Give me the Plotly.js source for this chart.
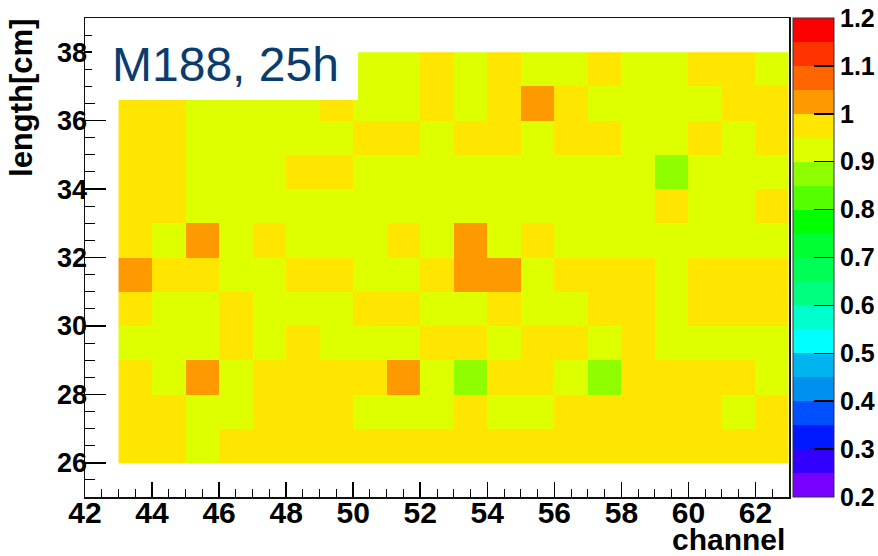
<!DOCTYPE html>
<html>
<head>
<meta charset="utf-8">
<script src="https://cdn.plot.ly/plotly-3.0.1.min.js"></script>
<style>
  html, body { margin: 0; padding: 0; background: #fff; }
  #chart { width: 878px; height: 556px; }
</style>
</head>
<body>
<div id="chart"></div>
<script>
// Bin centres of the 2D histogram
const channels = [43.5, 44.5, 45.5, 46.5, 47.5, 48.5, 49.5, 50.5, 51.5, 52.5,
                  53.5, 54.5, 55.5, 56.5, 57.5, 58.5, 59.5, 60.5, 61.5, 62.5];
const lengths = [26.5, 27.5, 28.5, 29.5, 30.5, 31.5, 32.5, 33.5, 34.5, 35.5, 36.5, 37.5];

// Relative response per channel, one array per length bin (26 cm .. 37 cm)
const len26 = [0.97, 0.98, 0.93, 0.97, 0.98, 0.97, 0.98, 0.97, 0.97, 0.98, 0.97, 0.98, 0.97, 0.97, 0.98, 0.97, 0.98, 0.97, 0.97, 0.98];
const len27 = [0.97, 0.96, 0.93, 0.92, 0.97, 0.98, 0.97, 0.93, 0.94, 0.93, 0.97, 0.93, 0.94, 0.97, 0.98, 0.97, 0.97, 0.98, 0.93, 0.97];
const len28 = [0.97, 0.93, 1.02, 0.93, 0.98, 0.97, 0.97, 0.98, 1.03, 0.93, 0.88, 0.97, 0.96, 0.93, 0.88, 0.97, 0.98, 0.97, 0.97, 0.93];
const len29 = [0.93, 0.94, 0.93, 0.97, 0.93, 0.97, 0.92, 0.93, 0.94, 0.97, 0.97, 0.93, 0.97, 0.96, 0.93, 0.97, 0.93, 0.94, 0.93, 0.93];
const len30 = [0.97, 0.93, 0.93, 0.97, 0.94, 0.93, 0.93, 0.97, 0.96, 0.93, 0.93, 0.97, 0.93, 0.94, 0.97, 0.97, 0.93, 0.98, 0.97, 0.97];
const len31 = [1.03, 0.97, 0.97, 0.93, 0.93, 0.97, 0.96, 0.93, 0.94, 0.97, 1.03, 1.02, 0.93, 0.97, 0.97, 0.98, 0.93, 0.97, 0.97, 0.98];
const len32 = [0.97, 0.93, 1.02, 0.93, 0.97, 0.93, 0.94, 0.93, 0.97, 0.93, 1.02, 0.93, 0.97, 0.93, 0.93, 0.94, 0.93, 0.93, 0.92, 0.93];
const len33 = [0.97, 0.98, 0.93, 0.93, 0.94, 0.93, 0.92, 0.93, 0.93, 0.94, 0.93, 0.93, 0.92, 0.93, 0.94, 0.93, 0.97, 0.93, 0.93, 0.97];
const len34 = [0.97, 0.97, 0.93, 0.94, 0.93, 0.97, 0.96, 0.93, 0.93, 0.92, 0.93, 0.94, 0.93, 0.93, 0.92, 0.93, 0.88, 0.93, 0.94, 0.93];
const len35 = [0.98, 0.97, 0.93, 0.93, 0.94, 0.93, 0.93, 0.97, 0.97, 0.93, 0.97, 0.96, 0.93, 0.97, 0.97, 0.93, 0.94, 0.97, 0.93, 0.97];
const len36 = [0.97, 0.97, 0.93, 0.92, 0.93, 0.94, 0.97, 0.93, 0.93, 0.97, 0.93, 0.97, 1.02, 0.97, 0.93, 0.94, 0.93, 0.93, 0.97, 0.98];
const len37 = [0.97, 0.96, 0.93, 0.93, 0.94, 0.93, 0.97, 0.93, 0.92, 0.97, 0.93, 0.97, 0.93, 0.94, 0.97, 0.93, 0.93, 0.97, 0.98, 0.93];

// Palette bands of 0.05 from 0.2 up to 1.2
const paletteColors = [
  '#7700ff', '#3300ff', '#0018ff', '#0050ff', '#0090f0',
  '#00b4f0', '#00ffff', '#00ffcc', '#00ff80', '#00ff55',
  '#00ff33', '#00ff00', '#55ff00', '#8fff00', '#ddff00',
  '#ffe600', '#ff9900', '#ff6600', '#ff3300', '#ff0000'
];
const paletteTicks = [0.2, 0.3, 0.4, 0.5, 0.6, 0.7, 0.8, 0.9, 1.0, 1.1, 1.2];
const paletteLabels = ['0.2', '0.3', '0.4', '0.5', '0.6', '0.7', '0.8', '0.9', '1', '1.1', '1.2'];

const xTickVals = [42, 44, 46, 48, 50, 52, 54, 56, 58, 60, 62];
const yTickVals = [26, 28, 30, 32, 34, 36, 38];

// Stepped colorscale: each band gets a flat colour
const colorscale = [];
paletteColors.forEach((c, i) => {
  colorscale.push([i / paletteColors.length, c]);
  colorscale.push([(i + 1) / paletteColors.length, c]);
});

const FONT = 'Liberation Sans, Arial, Helvetica, sans-serif';

const trace = {
  type: 'heatmap',
  x: channels,
  y: lengths,
  z: [len26, len27, len28, len29, len30, len31, len32, len33, len34, len35, len36, len37],
  zmin: 0.2,
  zmax: 1.2,
  zsmooth: false,
  colorscale: colorscale,
  hoverongaps: false,
  colorbar: {
    thickness: 41,
    thicknessmode: 'pixels',
    len: 1,
    lenmode: 'fraction',
    x: 1.0057,
    xanchor: 'left',
    xpad: 0,
    y: 0.5,
    yanchor: 'middle',
    ypad: 0,
    outlinewidth: 1,
    outlinecolor: '#333',
    tickmode: 'array',
    tickvals: paletteTicks,
    ticktext: paletteLabels,
    ticks: 'inside',
    ticklen: 20,
    tickwidth: 1.5,
    tickcolor: '#000',
    tickfont: { family: FONT, size: 25, color: '#000', weight: 'bold' }
  }
};

const layout = {
  width: 878,
  height: 556,
  margin: { l: 85, r: 89, t: 18, b: 59, autoexpand: false },
  paper_bgcolor: '#fff',
  plot_bgcolor: '#fff',
  showlegend: false,
  xaxis: {
    range: [42, 63],
    tickmode: 'array',
    tickvals: xTickVals,
    ticks: 'inside',
    ticklen: 15,
    tickwidth: 1.5,
    tickcolor: '#000',
    minor: { dtick: 0.5, tick0: 42, ticks: 'inside', ticklen: 8, tickwidth: 1, tickcolor: '#000' },
    showgrid: false,
    zeroline: false,
    showline: true,
    linecolor: '#111',
    linewidth: 1.5,
    mirror: true,
    ticklabelstandoff: -12,
    tickfont: { family: FONT, size: 30, color: '#000', weight: 'bold' }
  },
  yaxis: {
    range: [25, 39],
    tickmode: 'array',
    tickvals: yTickVals,
    ticks: 'inside',
    ticklen: 21,
    tickwidth: 1.5,
    tickcolor: '#000',
    minor: { dtick: 0.5, tick0: 25, ticks: 'inside', ticklen: 10, tickwidth: 1, tickcolor: '#000' },
    showgrid: false,
    zeroline: false,
    showline: true,
    linecolor: '#111',
    linewidth: 1.5,
    mirror: true,
    ticklabelstandoff: -9,
    tickfont: { family: FONT, size: 27, color: '#000', weight: 'bold' }
  },
  shapes: [
    {
      // white label box sitting over the upper-left corner of the map
      type: 'rect', layer: 'above',
      xref: 'paper', yref: 'paper',
      x0: 0.0099, x1: 0.3878, y0: 0.8288, y1: 0.973,
      fillcolor: '#fff', line: { width: 0 }
    }
  ],
  annotations: [
    {
      text: 'M188, 25h',
      xref: 'paper', yref: 'paper',
      x: 0.036, y: 0.902, xanchor: 'left', yanchor: 'middle',
      showarrow: false,
      font: { family: FONT, size: 48, color: '#0a3d6e' }
    },
    {
      text: 'length[cm]',
      xref: 'paper', yref: 'paper',
      x: -0.0895, y: 0.833, xanchor: 'center', yanchor: 'middle',
      textangle: -90,
      showarrow: false,
      font: { family: FONT, size: 31, color: '#000', weight: 'bold' }
    },
    {
      text: 'channel',
      xref: 'paper', yref: 'paper',
      x: 0.914, y: -0.088, xanchor: 'center', yanchor: 'middle',
      showarrow: false,
      font: { family: FONT, size: 30, color: '#000', weight: 'bold' }
    }
  ]
};

Plotly.newPlot('chart', [trace], layout, { staticPlot: true, displayModeBar: false });
</script>
</body>
</html>
